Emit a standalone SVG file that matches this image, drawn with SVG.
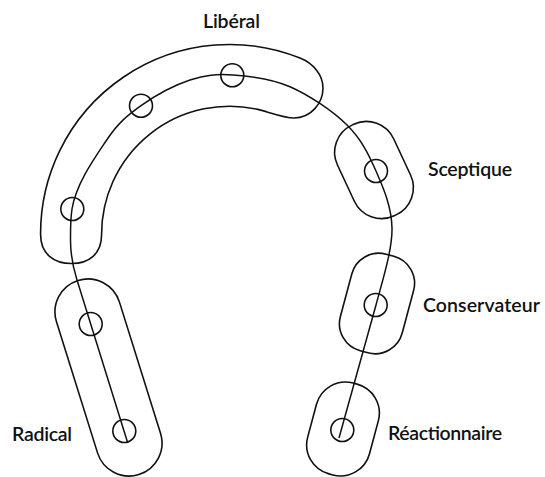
<svg xmlns="http://www.w3.org/2000/svg" width="545" height="477" viewBox="0 0 545 477">
  <style>
    .shape { fill: none; stroke: #111; stroke-width: 1.6; }
    .dot { fill: none; stroke: #111; stroke-width: 1.6; }
    .line { fill: none; stroke: #111; stroke-width: 1.5; stroke-linejoin: round; }
    .label { font-family: Lato, "Open Sans", sans-serif; font-size: 19.5px; font-weight: 600; fill: #111; }
  </style>
  <rect width="545" height="477" fill="#fff"/>

  <g id="connectors">
    <path class="line" d="M127.7,442.7 L77,280 C73.4,268.5 70.5,253 70.5,240 C70.5,228 70.4,219 72,209 C76.1,183.5 95.2,157.2 106.7,140 C118.2,122.8 127.1,115.7 141,105.7 C154.9,95.7 174.7,85.1 190,80 C205.3,74.9 216.3,73.9 233,75 C249.7,76.1 271,78.4 290,86.7 C309,95 332.7,111 347,125 C361.3,139 368.7,154.4 376,171 C382,185 391.5,205 392,228 C392.5,250 382,282 376,305 L339,438"/>
  </g>

  <g id="liberal">
    <path class="shape" d="M40.6,234.6 A189,189 0 0 1 300,58.1 C313,63.2 323,75 323,88 C323,103 311,118 294,118 C284,118 266,111.2 258,109.4 A128,128 0 0 0 101.6,234.6 C101.6,254 89,263.5 71.5,263.5 C54,263.5 40.6,254 40.6,234.6 Z"/>
    <circle class="dot" cx="232.3" cy="75.3" r="11.5"/>
    <circle class="dot" cx="141" cy="105.7" r="11.5"/>
    <circle class="dot" cx="72.3" cy="209" r="11.5"/>
    <text class="label" x="203" y="28" textLength="57">Libéral</text>
  </g>

  <g id="sceptique">
    <rect class="shape" x="-31" y="-50" width="62" height="100" rx="30" transform="translate(374,170) rotate(-25)"/>
    <circle class="dot" cx="376" cy="171" r="11.5"/>
    <text class="label" x="428" y="176" textLength="84">Sceptique</text>
  </g>

  <g id="conservateur">
    <rect class="shape" x="-32" y="-50" width="64" height="100" rx="28" transform="translate(377,303.5) rotate(15)"/>
    <circle class="dot" cx="375.7" cy="305" r="11.5"/>
    <text class="label" x="423" y="312" textLength="117">Conservateur</text>
  </g>

  <g id="reactionnaire">
    <rect class="shape" x="-32" y="-47" width="64" height="94" rx="30" transform="translate(343,429) rotate(15)"/>
    <circle class="dot" cx="342.3" cy="430" r="11.5"/>
    <text class="label" x="388" y="440" textLength="114">Réactionnaire</text>
  </g>

  <g id="radical">
    <rect class="shape" x="-33" y="-101.65" width="66" height="203.3" rx="33" transform="translate(108.5,377.5) rotate(-17.4)"/>
    <circle class="dot" cx="90.7" cy="324" r="11.5"/>
    <circle class="dot" cx="124.3" cy="431" r="11.5"/>
    <text class="label" x="12" y="441" textLength="60">Radical</text>
  </g>
</svg>
